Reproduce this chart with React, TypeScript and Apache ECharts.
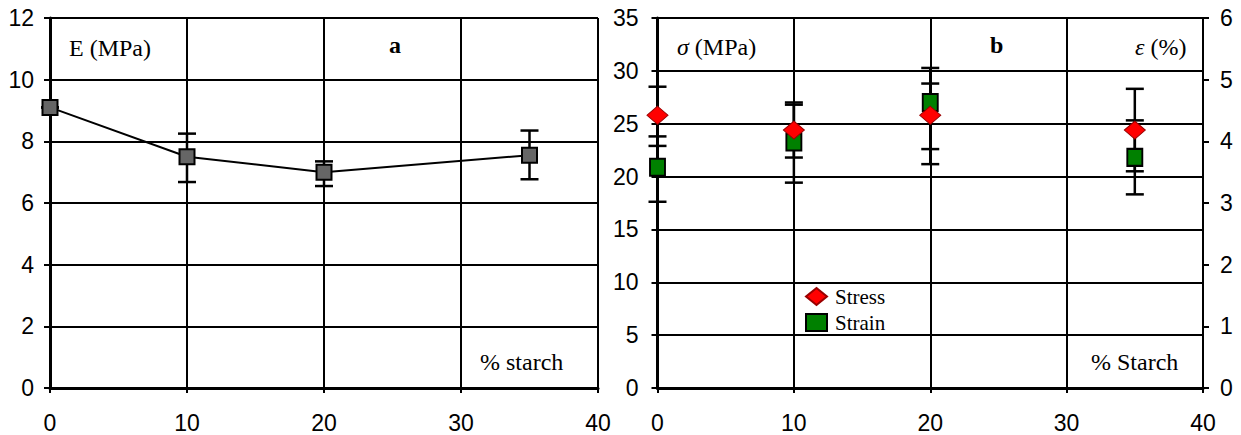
import React, { useEffect, useRef } from "react";
import * as echarts from "echarts";

// Panel a: Young's modulus vs % starch
const starchA = [0, 10, 20, 35];
const modulusE = [9.1, 7.5, 7.0, 7.55];
const modulusLow = [9.1, 6.68, 6.55, 6.77];
const modulusHigh = [9.1, 8.25, 7.35, 8.35];

// Panel b: stress (left axis, MPa) and strain (right axis, %)
const starchB = [0, 10, 20, 35];
const stress = [25.8, 24.4, 25.8, 24.4];
const stressLow = [22.9, 21.8, 22.6, 20.5];
const stressHigh = [28.5, 26.8, 28.8, 28.3];
const strain = [3.58, 3.99, 4.63, 3.74];
const strainLow = [3.02, 3.33, 3.63, 3.14];
const strainHigh = [4.08, 4.63, 5.19, 4.34];

const xTicks = { min: 0, max: 40, interval: 10 };

const NUM_FONT = "Liberation Sans";
const SERIF = "Liberation Serif";

function errorBarRender(params: any, api: any) {
  const x = api.value(0);
  const lo = api.coord([x, api.value(1)]);
  const hi = api.coord([x, api.value(2)]);
  const half = 9;
  const style = { stroke: "#000", lineWidth: 2.5 };
  return {
    type: "group",
    children: [
      { type: "line", shape: { x1: lo[0], y1: lo[1], x2: hi[0], y2: hi[1] }, style },
      { type: "line", shape: { x1: hi[0] - half, y1: hi[1], x2: hi[0] + half, y2: hi[1] }, style },
      { type: "line", shape: { x1: lo[0] - half, y1: lo[1], x2: lo[0] + half, y2: lo[1] }, style },
    ],
  };
}

export default function App() {
  const ref = useRef<HTMLDivElement>(null);
  useEffect(() => {
    if (!ref.current) return;
    const chart = echarts.init(ref.current, undefined, { renderer: "svg" });
    const grid = [
      { left: 50, top: 18, width: 548, height: 370 },
      { left: 657.5, top: 18, width: 545.5, height: 370 },
    ];
    const splitLine = { show: true, lineStyle: { color: "#000", width: 2 } };
    const axisLabel = (margin: number) => ({
      fontFamily: NUM_FONT,
      fontSize: 23,
      color: "#000",
      margin,
    });
    const italicRich = {
      i: { font: `italic 24px "${SERIF}"`, fill: "#000" },
    };
    const option: any = {
      animation: false,
      backgroundColor: "#fff",
      grid,
      legend: {
        left: 800,
        top: 281,
        orient: "vertical",
        itemWidth: 21,
        itemHeight: 17,
        itemGap: 5,
        data: [
          { name: "Stress", icon: "diamond" },
          { name: "Strain", icon: "rect" },
        ],
        textStyle: { fontFamily: SERIF, fontSize: 21, color: "#000", padding: [0, 0, 0, 3] },
      },
      xAxis: [0, 1].map((i) => ({
        type: "value",
        gridIndex: i,
        ...xTicks,
        axisLine: { show: true, onZero: false, lineStyle: { color: "#000", width: 3 } },
        axisTick: { show: true, length: 5, lineStyle: { color: "#000", width: 2 } },
        axisLabel: axisLabel(23),
        splitLine,
      })),
      yAxis: [
        {
          type: "value",
          gridIndex: 0,
          min: 0,
          max: 12,
          interval: 2,
          axisLine: { show: true, onZero: false, lineStyle: { color: "#000", width: 3 } },
          axisTick: { show: true, length: 6, lineStyle: { color: "#000", width: 2 } },
          axisLabel: axisLabel(16),
          splitLine,
        },
        {
          type: "value",
          gridIndex: 1,
          min: 0,
          max: 35,
          interval: 5,
          axisLine: { show: true, onZero: false, lineStyle: { color: "#000", width: 3 } },
          axisTick: { show: true, length: 6, lineStyle: { color: "#000", width: 2 } },
          axisLabel: axisLabel(19),
          splitLine,
        },
        {
          type: "value",
          gridIndex: 1,
          position: "right",
          min: 0,
          max: 6,
          interval: 1,
          axisLine: { show: true, onZero: false, lineStyle: { color: "#000", width: 2 } },
          axisTick: { show: true, length: 6, lineStyle: { color: "#000", width: 2 } },
          axisLabel: axisLabel(17),
          splitLine: { show: false },
        },
      ],
      series: [
        {
          type: "custom",
          xAxisIndex: 0,
          yAxisIndex: 0,
          renderItem: errorBarRender,
          data: starchA.map((x, i) => [x, modulusLow[i], modulusHigh[i]]),
          z: 3,
        },
        {
          name: "E",
          type: "line",
          xAxisIndex: 0,
          yAxisIndex: 0,
          data: starchA.map((x, i) => [x, modulusE[i]]),
          symbol: "rect",
          symbolSize: 15,
          lineStyle: { color: "#000", width: 2 },
          itemStyle: { color: "#666666", borderColor: "#000", borderWidth: 2 },
          z: 4,
        },
        {
          type: "custom",
          xAxisIndex: 1,
          yAxisIndex: 1,
          renderItem: errorBarRender,
          data: starchB.map((x, i) => [x, stressLow[i], stressHigh[i]]),
          z: 3,
        },
        {
          type: "custom",
          xAxisIndex: 1,
          yAxisIndex: 2,
          renderItem: errorBarRender,
          data: starchB.map((x, i) => [x, strainLow[i], strainHigh[i]]),
          z: 3,
        },
        {
          name: "Strain",
          type: "scatter",
          xAxisIndex: 1,
          yAxisIndex: 2,
          data: starchB.map((x, i) => [x, strain[i]]),
          symbol: "rect",
          symbolSize: [15, 17],
          itemStyle: { color: "#008000", borderColor: "#000", borderWidth: 2, opacity: 1 },
          z: 4,
        },
        {
          name: "Stress",
          type: "scatter",
          xAxisIndex: 1,
          yAxisIndex: 1,
          data: starchB.map((x, i) => [x, stress[i]]),
          symbol: "diamond",
          symbolSize: [21, 18],
          itemStyle: { color: "#ff0000", borderColor: "#990000", borderWidth: 1, opacity: 1 },
          z: 5,
        },
      ],
      graphic: [
        { type: "text", left: 69, top: 36, style: { text: "E (MPa)", font: `24px "${SERIF}"`, fill: "#000" } },
        { type: "text", left: 389, top: 33, style: { text: "a", font: `bold 24px "${SERIF}"`, fill: "#000" } },
        { type: "text", left: 480, top: 350, style: { text: "% starch", font: `24px "${SERIF}"`, fill: "#000" } },
        { type: "text", left: 677, top: 35, style: { text: "{i|σ} (MPa)", font: `24px "${SERIF}"`, fill: "#000", rich: italicRich } },
        { type: "text", left: 990, top: 33, style: { text: "b", font: `bold 24px "${SERIF}"`, fill: "#000" } },
        { type: "text", left: 1135, top: 35, style: { text: "{i|ε} (%)", font: `24px "${SERIF}"`, fill: "#000", rich: italicRich } },
        { type: "text", left: 1091, top: 350, style: { text: "% Starch", font: `24px "${SERIF}"`, fill: "#000" } },
      ],
    };
    chart.setOption(option);
    return () => chart.dispose();
  }, []);
  return (
    <div
      ref={ref}
      style={{ position: "fixed", left: 0, top: 0, width: 1241, height: 435, background: "#fff" }}
    />
  );
}
